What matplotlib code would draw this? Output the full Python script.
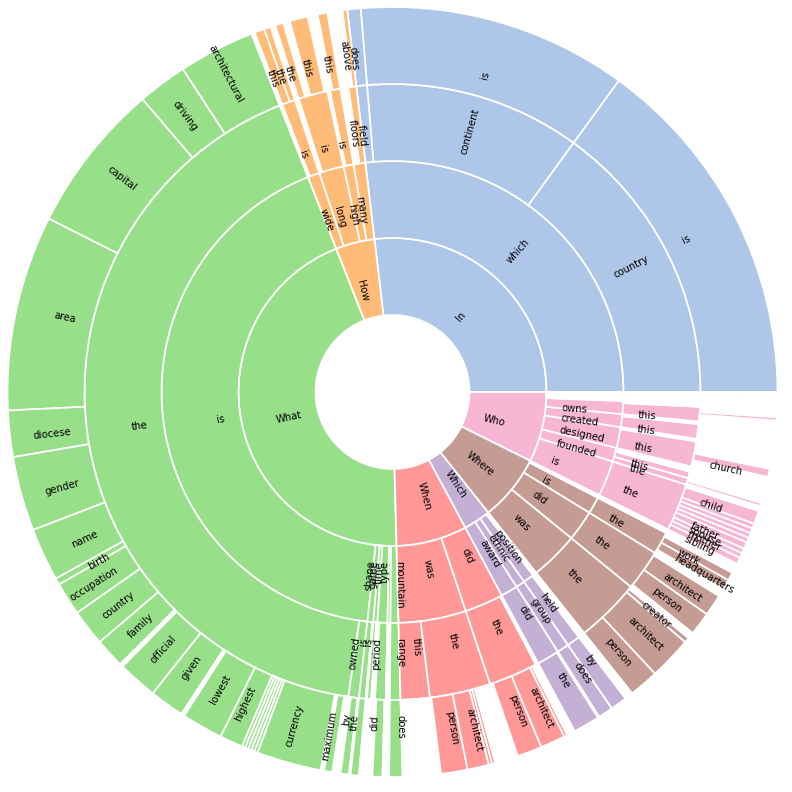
import math
import matplotlib
matplotlib.use('Agg')
import matplotlib.pyplot as plt
from matplotlib.patches import Wedge

# question counts, one unit = a quarter of a degree (1440 in total)
# ring entries: (parent path, word, count); '*' is a run of one-off questions, '' an unlabelled wedge
ring1 = [("In", 387), ("How", 59), ("What", 640), ("When", 107),
         ("Which", 41), ("Where", 100), ("Who", 106)]

ring2 = [
    ("In", "which", 387),
    ("How", "many", 12), ("How", "high", 10), ("How", "long", 25), ("How", "wide", 12),
    ("What", "is", 609), ("What", "shape", 6), ("What", "game", 4), ("What", "time", 10),
    ("What", "type", 3), ("What", "mountain", 8),
    ("When", "was", 68), ("When", "did", 39),
    ("Which", "award", 17), ("Which", "ethnic", 9), ("Which", "position", 11), ("Which", "*", 4),
    ("Where", "was", 49), ("Where", "did", 31), ("Where", "is", 17), ("Where", "*", 3),
    ("Who", "is", 36), ("Who", "founded", 14), ("Who", "designed", 21),
    ("Who", "created", 13), ("Who", "owns", 13), ("Who", "*", 9),
]

ring3 = [
    ("In/which", "country", 216), ("In/which", "continent", 163), ("In/which", "field", 8),
    ("How/many", "floors", 6), ("How/high", "is", 8), ("How/long", "is", 22), ("How/wide", "is", 10),
    ("What/is", "the", 601), ("What/is", "owned", 8),
    ("What/shape", "is", 5), ("What/game", "is", 3), ("What/time", "*", 2), ("What/time", "period", 8),
    ("What/mountain", "range", 8),
    ("When/was", "this", 22), ("When/was", "the", 46), ("When/did", "the", 37),
    ("Which/award", "did", 17), ("Which/ethnic", "group", 9), ("Which/position", "held", 10),
    ("Where/was", "the", 49), ("Where/did", "the", 31), ("Where/is", "the", 17),
    ("Who/is", "the", 36), ("Who/founded", "the", 5), ("Who/founded", "this", 5),
    ("Who/designed", "this", 19), ("Who/created", "this", 11), ("Who/owns", "this", 11),
]

ring4 = [
    ("In/which/country", "is", 216), ("In/which/continent", "is", 163), ("In/which/field", "does", 8),
    ("How/many/floors", "above", 3), ("How/high/is", "this", 6),
    ("How/long/is", "*", 2), ("How/long/is", "this", 11), ("How/long/is", "*", 4), ("How/long/is", "the", 5),
    ("How/wide/is", "the", 4), ("How/wide/is", "this", 6),
    ("What/is/the", "architectural", 46), ("What/is/the", "driving", 30), ("What/is/the", "capital", 91),
    ("What/is/the", "area", 118), ("What/is/the", "diocese", 28), ("What/is/the", "gender", 45),
    ("What/is/the", "name", 32), ("What/is/the", "birth", 4), ("What/is/the", "occupation", 20),
    ("What/is/the", "country", 22), ("What/is/the", "family", 18), ("What/is/the", "*", 2),
    ("What/is/the", "official", 24), ("What/is/the", "given", 21), ("What/is/the", "*", 2),
    ("What/is/the", "lowest", 25), ("What/is/the", "highest", 14),
    ("What/is/the", "", 2), ("What/is/the", "", 2), ("What/is/the", "", 2), ("What/is/the", "", 2),
    ("What/is/the", "", 2), ("What/is/the", "currency", 39), ("What/is/the", "*", 2),
    ("What/is/the", "maximum", 5),
    ("What/is/owned", "*", 2), ("What/is/owned", "by", 5),
    ("What/shape/is", "the", 5), ("What/time/period", "*", 1), ("What/time/period", "did", 6),
    ("What/mountain/range", "does", 8),
    ("When/was/the", "*", 1), ("When/was/the", "person", 16), ("When/was/the", "architect", 13),
    ("When/was/the", "", 2), ("When/was/the", "", 2),
    ("When/did/the", "*", 2), ("When/did/the", "person", 15), ("When/did/the", "architect", 15),
    ("When/did/the", "", 2),
    ("Which/award/did", "the", 16), ("Which/ethnic/group", "does", 9), ("Which/position/held", "by", 10),
    ("Where/was/the", "person", 18), ("Where/was/the", "architect", 26), ("Where/was/the", "creator", 3),
    ("Where/did/the", "*", 2), ("Where/did/the", "person", 14), ("Where/did/the", "architect", 13),
    ("Where/is/the", "*", 3), ("Where/is/the", "headquarters", 6), ("Where/is/the", "work", 5),
    ("Who/is/the", "sibling", 4), ("Who/is/the", "mother", 3), ("Who/is/the", "spouse", 3),
    ("Who/is/the", "father", 4), ("Who/is/the", "", 3), ("Who/is/the", "", 3), ("Who/is/the", "", 3),
    ("Who/is/the", "", 3), ("Who/is/the", "child", 8),
    ("Who/founded/the", "*", 1), ("Who/founded/the", "", 2),
    ("Who/designed/this", "*", 5), ("Who/designed/this", "church", 5),
    ("Who/owns/this", "*", 5), ("Who/owns/this", "", 2),
]

colors = {"In": "#aec7e8", "How": "#ffbb78", "What": "#98df8a", "When": "#ff9896",
          "Which": "#c5b0d5", "Where": "#c49c94", "Who": "#f7b6d2"}

TOTAL = sum(c for _, c in ring1)
radii = [77, 154, 231, 308, 385]


def place(prev, listed):
    # lay the children of every wedge of the previous ring out counter-clockwise
    out = []
    for path, label, start, count in prev:
        if label == "*":
            out.append((path, "*", start, count))
            continue
        pos = start
        for p, lab, c in listed:
            if p == path:
                out.append((path + "/" + lab, lab, pos, c))
                pos += c
        if start + count - pos > 0:
            out.append((path + "/*", "*", pos, start + count - pos))
    return out


levels = []
pos = 0
lvl = []
for lab, c in ring1:
    lvl.append((lab, lab, pos, c))
    pos += c
levels.append(lvl)
for listed in [ring2, ring3, ring4]:
    levels.append(place(levels[-1], listed))

fig = plt.figure(figsize=(7.92, 7.92), dpi=100)
ax = fig.add_axes([0, 0, 1, 1])
ax.set_xlim(-392.5, 399.5)
ax.set_ylim(-400, 392)
ax.set_aspect('equal')
ax.axis('off')

deg = 360.0 / TOTAL
for k, nodes in enumerate(levels):
    r_in, r_out = radii[k], radii[k + 1]
    for path, label, start, count in nodes:
        col = colors[path.split("/")[0]]
        # one-off questions: one thin wedge each
        if label == "*":
            for i in range(count):
                ax.add_patch(Wedge((0, 0), r_out, (start + i) * deg, (start + i + 1) * deg,
                                   width=r_out - r_in, facecolor=col, edgecolor='white', linewidth=1.25))
            continue
        t1, t2 = start * deg, (start + count) * deg
        ax.add_patch(Wedge((0, 0), r_out, t1, t2, width=r_out - r_in,
                           facecolor=col, edgecolor='white', linewidth=1.25))
        if label:
            # pie-style rotated labels, anchored a little outside the inner edge
            mid = math.radians((t1 + t2) / 2)
            xt = (r_in + 15) * math.cos(mid)
            yt = (r_in + 15) * math.sin(mid)
            rot = math.degrees(mid) + (0 if xt > 0 else 180)
            ax.text(xt, yt, label, rotation=rot,
                    ha='left' if xt > 0 else 'right', va='bottom' if yt > 0 else 'top',
                    fontsize=7.2, color='black', zorder=3)

fig.savefig('out.png', dpi=100)
